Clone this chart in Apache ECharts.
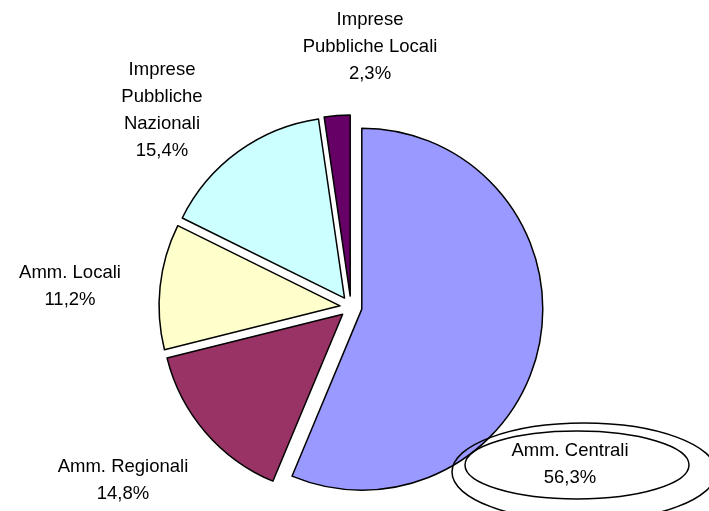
<!DOCTYPE html>
<html>
<head>
<meta charset="utf-8">
<script src="https://cdn.jsdelivr.net/npm/echarts@6/dist/echarts.min.js"></script>
<style>
  html, body { margin: 0; padding: 0; background: #fff; }
  #pie { width: 709px; height: 511px; }
</style>
</head>
<body>
<div id="pie"></div>
<script>
// categories and values (percent), clockwise from 12 o'clock
var categories = ['Amm. Centrali', 'Amm. Regionali', 'Amm. Locali', 'Imprese\nPubbliche\nNazionali', 'Imprese\nPubbliche Locali'];
var shares = [56.3, 14.8, 11.2, 15.4, 2.3];
var colors = ['#9999FF', '#993366', '#FFFFCC', '#CCFFFF', '#660066'];

// where each label sits (centre of the text block)
var labelAt = [[570, 464], [123, 480], [70, 286], [162, 110], [370, 47]];

var dom = document.getElementById('pie');
var chart = echarts.init(dom);

var data = categories.map(function (name, i) {
    return {
        name: name,
        value: shares[i],
        selected: true,
        itemStyle: { color: colors[i] }
    };
});

function pct(v) {
    return v.toFixed(1).replace('.', ',') + '%';
}

// slice labels, placed by hand like the original
var labels = categories.map(function (name, i) {
    return {
        type: 'text',
        z: 100,
        x: labelAt[i][0],
        y: labelAt[i][1],
        style: {
            text: name + '\n' + pct(shares[i]),
            fill: '#000',
            fontFamily: 'Liberation Sans, Arial, sans-serif',
            fontSize: 18.5,
            lineHeight: 27,
            align: 'center',
            verticalAlign: 'middle'
        }
    };
});

var option = {
    animation: false,
    series: [
        {
            type: 'pie',
            center: [351, 307],
            radius: [0, 181],
            startAngle: 90,
            clockwise: true,
            selectedMode: 'multiple',
            selectedOffset: 11,
            itemStyle: { borderColor: '#000', borderWidth: 1.5 },
            emphasis: { disabled: true },
            select: { itemStyle: { borderColor: '#000', borderWidth: 1.5 } },
            label: { show: false },
            labelLine: { show: false },
            data: data
        }
    ],
    graphic: labels.concat([
        {
            type: 'ellipse', z: 100,
            shape: { cx: 584, cy: 472, rx: 132, ry: 49 },
            style: { fill: 'none', stroke: '#000', lineWidth: 1.5 }
        },
        {
            type: 'ellipse', z: 100,
            shape: { cx: 577, cy: 465, rx: 112, ry: 34 },
            style: { fill: 'none', stroke: '#000', lineWidth: 1.5 }
        }
    ])
};

chart.setOption(option);

window.addEventListener('resize', function () {
    chart.resize();
});
</script>
</body>
</html>
